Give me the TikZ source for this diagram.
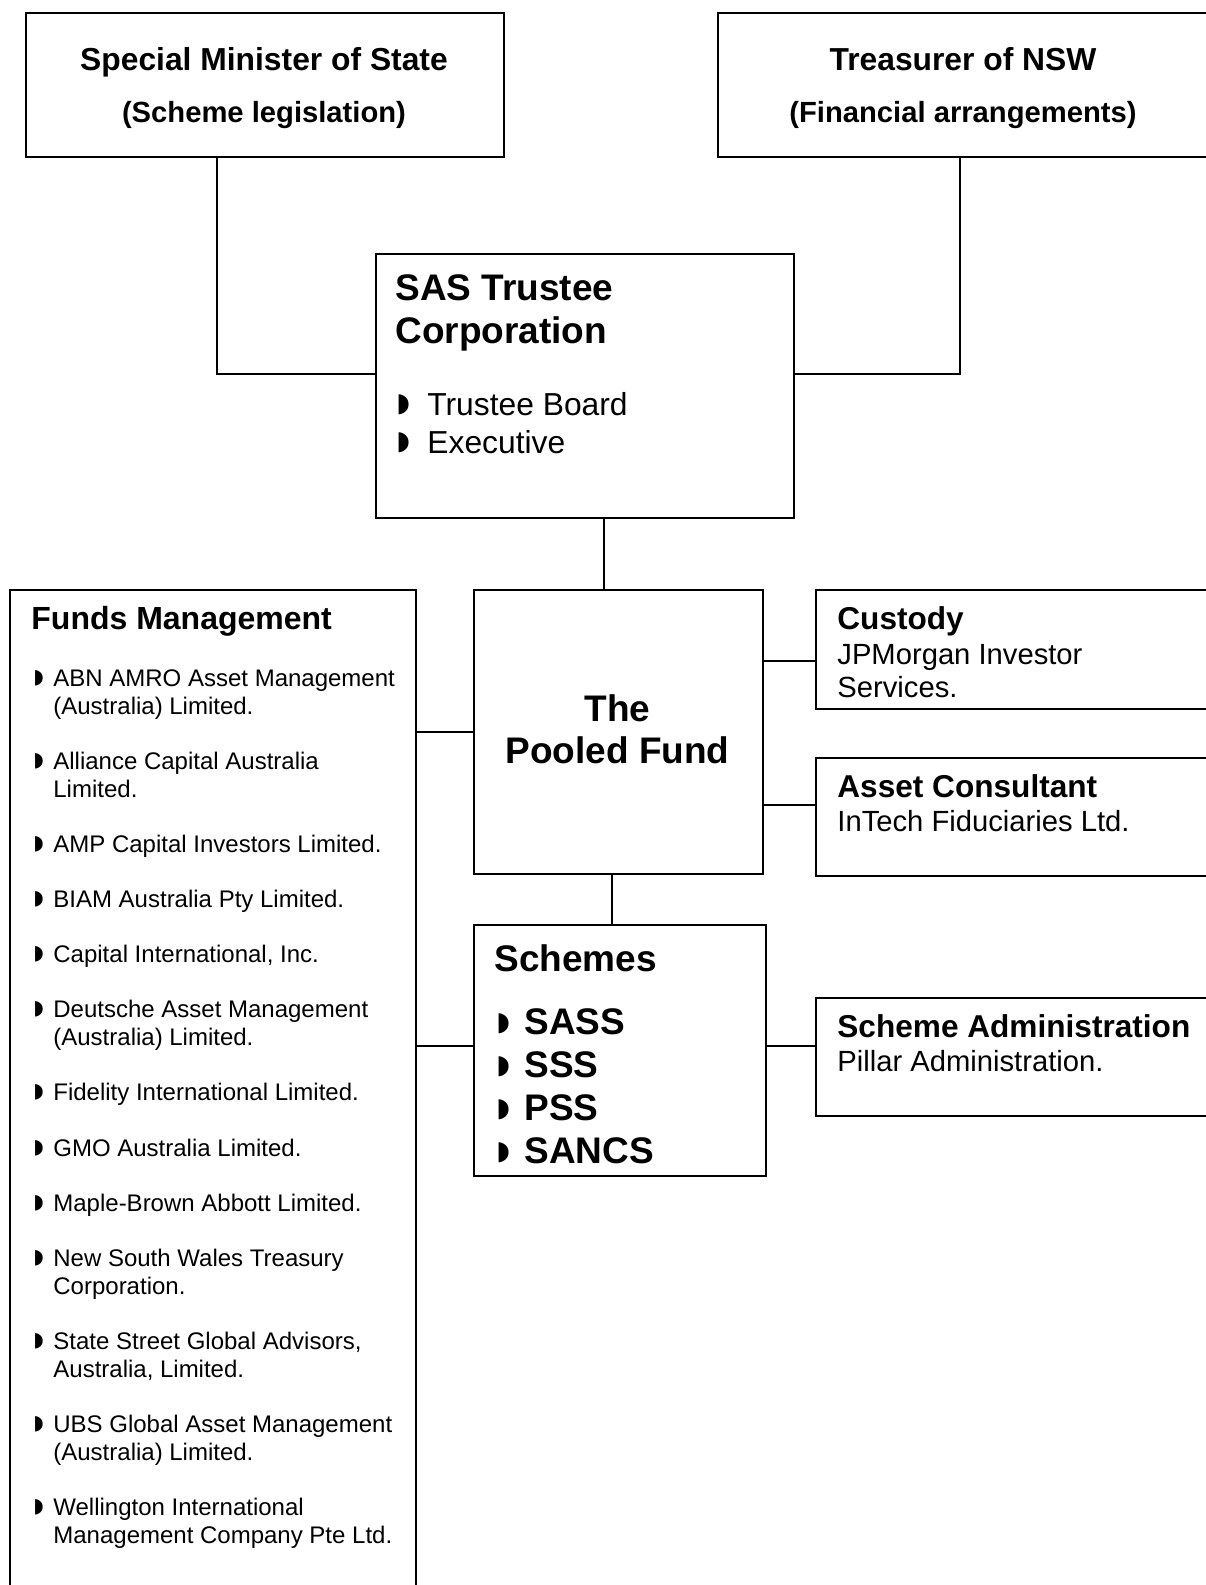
\documentclass[tikz,border=0pt]{standalone}
\usepackage{fontspec}
\setmainfont{Liberation Sans}
\newfontfamily\symfont{DejaVu Sans}
\usetikzlibrary{positioning}
\usetikzlibrary{calc}

% half-circle bullets
\newcommand{\fbul}{\makebox[10pt][l]{\raisebox{1.5pt}{\symfont\fontsize{10}{10}\selectfont ◗}}}
\newcommand{\find}{\makebox[10pt]{}}
\newcommand{\tbul}{\makebox[15.5pt][l]{\raisebox{2pt}{\symfont\fontsize{13}{13}\selectfont ◗}}}
\newcommand{\sbul}{\makebox[14pt][l]{\raisebox{2pt}{\symfont\fontsize{13}{13}\selectfont ◗}}}
\newcommand{\paren}{\fontsize{14.6}{26}\selectfont}

\tikzset{
  box/.style={draw, line width=1pt, inner sep=0pt, anchor=north west},
  lbl/.style={inner sep=0pt, anchor=base west, align=left},
  ctr/.style={inner sep=0pt, anchor=base, align=center},
  link/.style={line width=1pt},
  item/.style={lbl, font=\fontsize{12}{13.83}\selectfont},
  head/.style={lbl, font=\bfseries\fontsize{15.8}{19}\selectfont},
  sub/.style={lbl, font=\fontsize{14.6}{16.5}\selectfont},
}

\begin{document}
\begin{tikzpicture}[x=0.5pt, y=-0.5pt]
  \useasboundingbox (0,0) rectangle (1205,1585);

  % boxes
  \node (smin) [box, minimum width=239pt, minimum height=72pt] at (25,12) {};
  \node (tre) [box, minimum width=246pt, minimum height=72pt] at (717,12) {};
  \node (sas) [box, minimum width=209pt, minimum height=132pt] at (375,253) {};
  \node (pool) [box, minimum width=144.5pt, minimum height=142pt] at (473,589) {};
  \node (fm) [box, minimum width=203pt, minimum height=506pt] at (9,589) {};
  \node (cus) [box, minimum width=200pt, minimum height=59.5pt] at (815,589) {};
  \node (acon) [box, minimum width=200pt, minimum height=59pt] at (815,757) {};
  \node (sch) [box, minimum width=146pt, minimum height=125.5pt] at (473,924) {};
  \node (sadm) [box, minimum width=200pt, minimum height=59pt] at (815,997) {};

  % texts (multi-line nodes sit on their last line)
  \node (smint) [ctr, font=\bfseries\fontsize{15.9}{26}\selectfont] at (264,122)
    {Special Minister of State\\\paren(Scheme legislation)};
  \node (tret) [ctr, font=\bfseries\fontsize{15.9}{26}\selectfont] at (963,122)
    {Treasurer of NSW\\\paren(Financial arrangements)};
  \node (sast) [lbl, font=\bfseries\fontsize{18.5}{21.5}\selectfont] at (395,343)
    {SAS Trustee\\Corporation};
  \node (sasl) [lbl, font=\fontsize{15.9}{19}\selectfont] at (396,453)
    {\tbul Trustee Board\\\tbul Executive};
  \node (poolt) [ctr, font=\bfseries\fontsize{18.5}{21}\selectfont] at (617.5,763)
    {The\\Pooled Fund};

  \node (fmt) [lbl, font=\bfseries\fontsize{16}{19}\selectfont] at (31,629) {Funds Management};
  \node (f1) [item] at (33,714) {\fbul ABN AMRO Asset Management\\\find(Australia) Limited.};
  \node (f2) [item] at (33,797) {\fbul Alliance Capital Australia\\\find Limited.};
  \node (f3) [item] at (33,852) {\fbul AMP Capital Investors Limited.};
  \node (f4) [item] at (33,907) {\fbul BIAM Australia Pty Limited.};
  \node (f5) [item] at (33,962) {\fbul Capital International, Inc.};
  \node (f6) [item] at (33,1045) {\fbul Deutsche Asset Management\\\find(Australia) Limited.};
  \node (f7) [item] at (33,1100) {\fbul Fidelity International Limited.};
  \node (f8) [item] at (33,1156) {\fbul GMO Australia Limited.};
  \node (f9) [item] at (33,1211) {\fbul Maple-Brown Abbott Limited.};
  \node (f10) [item] at (33,1294) {\fbul New South Wales Treasury\\\find Corporation.};
  \node (f11) [item] at (33,1377) {\fbul State Street Global Advisors,\\\find Australia, Limited.};
  \node (f12) [item] at (33,1460) {\fbul UBS Global Asset Management\\\find(Australia) Limited.};
  \node (f13) [item] at (33,1543) {\fbul Wellington International\\\find Management Company Pte Ltd.};

  \node (cust) [head] at (837,629) {Custody};
  \node (cusl) [sub] at (837,697) {JPMorgan Investor\\Services.};
  \node (acont) [head] at (837,797) {Asset Consultant};
  \node (aconl) [sub] at (837,831) {InTech Fiduciaries Ltd.};

  \node (scht) [lbl, font=\bfseries\fontsize{18.5}{21.5}\selectfont] at (494,971) {Schemes};
  \node (schl) [lbl, font=\bfseries\fontsize{18.5}{21.5}\selectfont] at (496,1163)
    {\sbul SASS\\\sbul SSS\\\sbul PSS\\\sbul SANCS};

  \node (sadmt) [head] at (837,1037) {Scheme Administration};
  \node (sadml) [sub] at (837,1071) {Pillar Administration.};

  % connectors
  \draw[link] ([xshift=-24pt]smin.south) |- ([yshift=6pt]sas.west);
  \draw[link] ([xshift=-2pt]tre.south) |- ([yshift=6pt]sas.east);
  \draw[link] ([xshift=9.5pt]sas.south) -- ([xshift=9.5pt]sas.south |- pool.north);
  \draw[link] (pool.west) -- (pool.west -| fm.east);
  \draw[link] ([yshift=-5.75pt]cus.west) -- ([yshift=-5.75pt]cus.west -| pool.east);
  \draw[link] ([yshift=6pt]acon.west) -- ([yshift=6pt]acon.west -| pool.east);
  \draw[link] ([xshift=-3.5pt]pool.south) -- ([xshift=-3.5pt]pool.south |- sch.north);
  \draw[link] ([yshift=2.25pt]sch.west) -- ([yshift=2.25pt]sch.west -| fm.east);
  \draw[link] ([yshift=2.25pt]sch.east) -- ([yshift=2.25pt]sch.east -| sadm.west);
\end{tikzpicture}
\end{document}
